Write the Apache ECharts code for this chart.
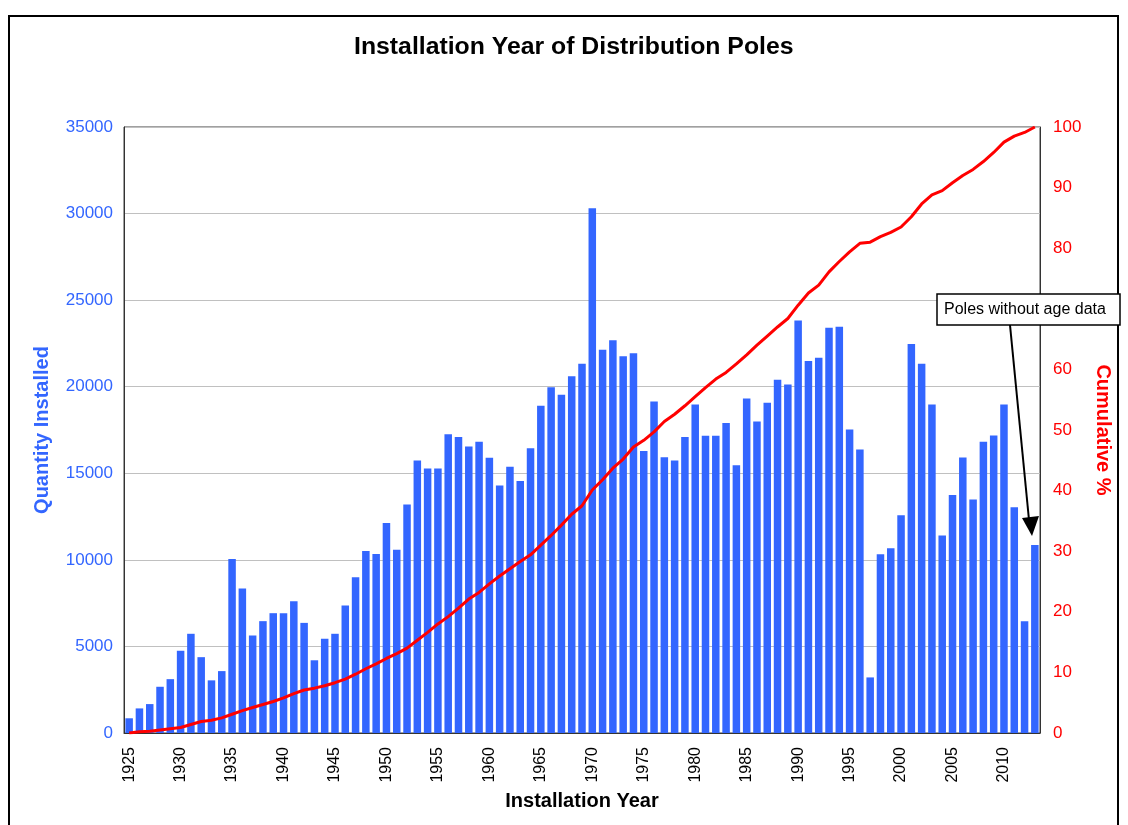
<!DOCTYPE html>
<html lang="en">
<head>
<meta charset="UTF-8">
<title>Installation Year of Distribution Poles</title>
<script src="https://cdn.jsdelivr.net/npm/echarts@6/dist/echarts.min.js"></script>
<style>
  html, body { margin: 0; padding: 0; background: #fff; }
  #main { width: 1128px; height: 825px; }
</style>
</head>
<body>
<div id="main"></div>
<script>
// categories: installation years, last bar = poles without age data
var years = [];
for (var y = 1925; y <= 2012; y++) years.push(String(y));
years.push('No age data');

// quantity installed per year
var quantity = [
  850, 1420, 1670, 2670, 3110, 4750, 5730, 4380, 3040, 3575,
  10050, 8340, 5630, 6460, 6920, 6920, 7610, 6360, 4200, 5450,
  5730, 7360, 9000, 10510, 10340, 12130, 10590, 13200, 15740, 15280,
  15280, 17260, 17090, 16550, 16820, 15900, 14300, 15380, 14560, 16450,
  18900, 19970, 19530, 20600, 21320, 30310, 22130, 22680, 21760, 21930,
  16280, 19150, 15920, 15740, 17090, 18970, 17170, 17170, 17900, 15470,
  19320, 17990, 19070, 20400, 20130, 23830, 21490, 21680, 23400, 23470,
  17530, 16370, 3210, 10320, 10670, 12570, 22470, 21320, 18970, 11400,
  13740, 15910, 13490, 16820, 17180, 18970, 13040, 6460,
  10860
];

// cumulative %
var cumulative = [
  0.0, 0.2, 0.3, 0.5, 0.7, 0.9, 1.4, 1.9, 2.1, 2.5,
  3.1, 3.7, 4.2, 4.7, 5.2, 5.8, 6.5, 7.1, 7.4, 7.8,
  8.3, 8.9, 9.7, 10.6, 11.4, 12.3, 13.1, 14.0, 15.3, 16.6,
  18.0, 19.2, 20.6, 22.1, 23.2, 24.6, 25.9, 27.1, 28.3, 29.4,
  31.0, 32.6, 34.3, 36.1, 37.5, 40.1, 41.8, 43.7, 45.2, 47.2,
  48.3, 49.7, 51.4, 52.6, 54.0, 55.5, 57.0, 58.4, 59.5, 60.9,
  62.4, 64.0, 65.5, 67.0, 68.4, 70.6, 72.6, 73.9, 76.1, 77.8,
  79.4, 80.8, 81.0, 81.9, 82.6, 83.5, 85.2, 87.3, 88.8, 89.5,
  90.8, 92.0, 93.0, 94.3, 95.8, 97.5, 98.5, 99.1, 100
];

var FONT = "'Liberation Sans', Arial, sans-serif";
var BLUE = '#3366FF';
var RED = '#FF0000';

var myChart = echarts.init(document.getElementById('main'));

var option = {
  animation: false,
  backgroundColor: '#fff',
  textStyle: { fontFamily: FONT },
  title: {
    text: 'Installation Year of Distribution Poles',
    left: 349,
    top: 30,
    textStyle: { fontFamily: FONT, fontSize: 24.8, fontWeight: 'bold', color: '#000' }
  },
  grid: {
    left: 124,
    right: 88,
    top: 127,
    bottom: 92,
    show: true,
    borderColor: '#404040',
    borderWidth: 1
  },
  xAxis: {
    type: 'category',
    data: years,
    name: 'Installation Year',
    nameLocation: 'middle',
    nameGap: 58,
    nameTextStyle: { fontFamily: FONT, fontSize: 20, fontWeight: 'bold', color: '#000' },
    axisLine: { lineStyle: { color: '#333', width: 1 } },
    axisTick: { show: false },
    axisLabel: {
      interval: 4,
      rotate: 90,
      margin: 14,
      fontFamily: FONT,
      fontSize: 16,
      color: '#000'
    }
  },
  yAxis: [
    {
      type: 'value',
      min: 0,
      max: 35000,
      interval: 5000,
      name: 'Quantity Installed',
      nameLocation: 'middle',
      nameGap: 72,
      nameTextStyle: { fontFamily: FONT, fontSize: 20, fontWeight: 'bold', color: BLUE },
      axisLine: { show: true, lineStyle: { color: '#333' } },
      axisTick: { show: false },
      axisLabel: {
        margin: 11, fontFamily: FONT, fontSize: 17, color: BLUE,
        formatter: function (v) { return String(v); }
      },
      splitLine: { lineStyle: { color: '#c0c0c0', width: 1 } }
    },
    {
      type: 'value',
      min: 0,
      max: 100,
      interval: 10,
      position: 'right',
      name: 'Cumulative %',
      nameLocation: 'middle',
      nameRotate: -90,
      nameGap: 50,
      nameTextStyle: { fontFamily: FONT, fontSize: 20, fontWeight: 'bold', color: RED },
      axisLine: { show: true, lineStyle: { color: '#333' } },
      axisTick: { show: false },
      axisLabel: { margin: 13, fontFamily: FONT, fontSize: 17, color: RED },
      splitLine: { show: false }
    }
  ],
  series: [
    {
      name: 'Quantity Installed',
      type: 'bar',
      yAxisIndex: 0,
      data: quantity,
      barCategoryGap: '27%',
      itemStyle: { color: BLUE }
    },
    {
      name: 'Cumulative %',
      type: 'line',
      yAxisIndex: 1,
      data: cumulative,
      symbol: 'none',
      smooth: false,
      lineStyle: { color: RED, width: 3 },
      z: 5
    }
  ],
  graphic: [
    // outer chart frame
    {
      type: 'rect',
      shape: { x: 9, y: 16, width: 1109, height: 840 },
      style: { fill: 'none', stroke: '#000', lineWidth: 2 },
      silent: true
    },
    // annotation arrow
    {
      type: 'line',
      shape: { x1: 1010, y1: 325, x2: 1029, y2: 520 },
      style: { stroke: '#000', lineWidth: 2 },
      zlevel: 1
    },
    {
      type: 'polygon',
      shape: { points: [[1022, 518], [1039, 516], [1032, 536]] },
      style: { fill: '#000' },
      zlevel: 1
    },
    // annotation box (covers the "70" tick label, as in the original)
    {
      type: 'rect',
      shape: { x: 937, y: 294, width: 183, height: 31 },
      style: { fill: '#fff', stroke: '#000', lineWidth: 1.5 },
      zlevel: 1
    },
    {
      type: 'text',
      x: 944,
      y: 310,
      style: {
        text: 'Poles without age data',
        fontFamily: FONT,
        fontSize: 16,
        fill: '#000',
        verticalAlign: 'middle'
      },
      zlevel: 1,
      z: 2
    }
  ]
};

myChart.setOption(option);
</script>
</body>
</html>
